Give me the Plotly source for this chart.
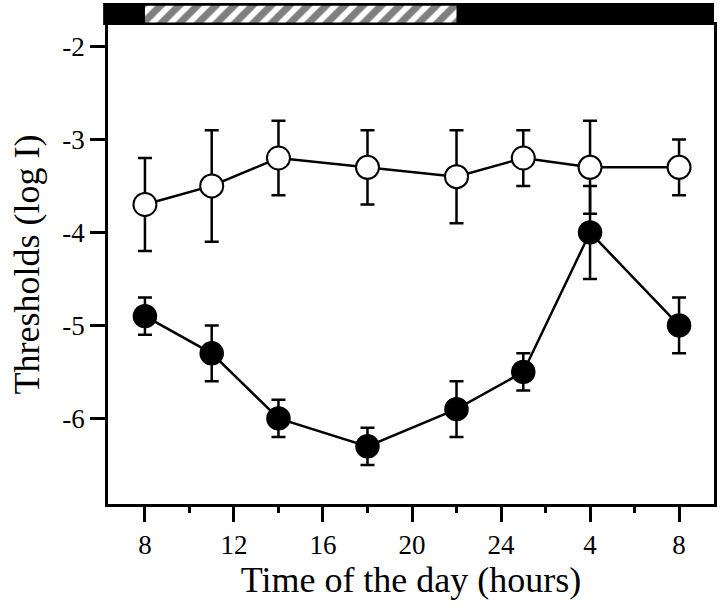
import plotly.graph_objects as go

# Data (hours of day on a continuous scale: 24 -> midnight, 28 -> 4 h, 32 -> 8 h next day)
hours = [8, 11, 14, 18, 22, 25, 28, 32]
open_vals = [-3.7, -3.5, -3.2, -3.3, -3.4, -3.2, -3.3, -3.3]
open_err = [0.5, 0.6, 0.4, 0.4, 0.5, 0.3, 0.5, 0.3]
filled_vals = [-4.9, -5.3, -6.0, -6.3, -5.9, -5.5, -4.0, -5.0]
filled_err = [0.2, 0.3, 0.2, 0.2, 0.3, 0.2, 0.5, 0.3]
x_tickvals = [8, 12, 16, 20, 24, 28, 32]
x_ticktext = ["8", "12", "16", "20", "24", "4", "8"]
x_minor = [10, 14, 18, 22, 26, 30]
y_tickvals = [-2, -3, -4, -5, -6]
y_ticktext = ["-2", "-3", "-4", "-5", "-6"]
light_period = [8, 22]

FONT = "Liberation Serif, Times New Roman, serif"

fig = go.Figure()

# hatched light-period band in the top bar
fig.add_trace(go.Scatter(
    x=[light_period[0], light_period[1], light_period[1], light_period[0], light_period[0]],
    y=[0.12, 0.12, 0.88, 0.88, 0.12],
    xaxis="x", yaxis="y2",
    mode="lines", line=dict(width=0, color="black"),
    fill="toself", fillcolor="white",
    fillpattern=dict(shape="/", fgcolor="black", bgcolor="white", size=13, solidity=0.55),
    hoverinfo="skip", showlegend=False,
))

fig.add_trace(go.Scatter(
    x=hours, y=filled_vals, mode="lines+markers",
    line=dict(color="black", width=2.5),
    marker=dict(symbol="circle", size=23, color="black", line=dict(color="black", width=1.5)),
    error_y=dict(type="data", array=filled_err, visible=True, color="black", thickness=2.5, width=7),
    showlegend=False,
))
fig.add_trace(go.Scatter(
    x=hours, y=open_vals, mode="lines+markers",
    line=dict(color="black", width=2.5),
    marker=dict(symbol="circle", size=23, color="white", line=dict(color="black", width=2)),
    error_y=dict(type="data", array=open_err, visible=True, color="black", thickness=2.5, width=7),
    showlegend=False,
))

fig.update_layout(
    width=720, height=607,
    margin=dict(l=108, r=4, t=3, b=103),
    paper_bgcolor="white", plot_bgcolor="white",
    font=dict(family=FONT, color="black"),
    xaxis=dict(
        range=[6.34, 33.57],
        tickmode="array", tickvals=x_tickvals, ticktext=x_ticktext,
        ticks="outside", ticklen=15, tickwidth=2.5, tickcolor="black",
        minor=dict(tickvals=x_minor, ticks="outside", ticklen=6, tickwidth=2.5, tickcolor="black"),
        showline=True, linecolor="black", linewidth=2.5, mirror=True,
        showgrid=False, zeroline=False,
        tickfont=dict(family=FONT, size=27),
        title=dict(text="Time of the day (hours)", font=dict(family=FONT, size=36), standoff=4),
    ),
    yaxis=dict(
        domain=[0, 0.956],
        range=[-6.92, -1.77],
        tickmode="array", tickvals=y_tickvals, ticktext=y_ticktext,
        ticks="outside", ticklen=15, tickwidth=2.5, tickcolor="black",
        showline=True, linecolor="black", linewidth=2.5, mirror=True,
        showgrid=False, zeroline=False,
        tickfont=dict(family=FONT, size=27),
        title=dict(text="Thresholds (log I)", font=dict(family=FONT, size=36), standoff=12),
    ),
    yaxis2=dict(
        domain=[0.956, 1], range=[0, 1], anchor="x",
        visible=False, showgrid=False, zeroline=False,
    ),
    shapes=[dict(type="rect", xref="paper", yref="paper", x0=-0.008, x1=1.0,
                 y0=0.956, y1=1.0, fillcolor="black", line=dict(width=0), layer="below")],
)

fig.write_html("out.html", config={"displayModeBar": False},
               post_script="document.body.style.margin='0';")
